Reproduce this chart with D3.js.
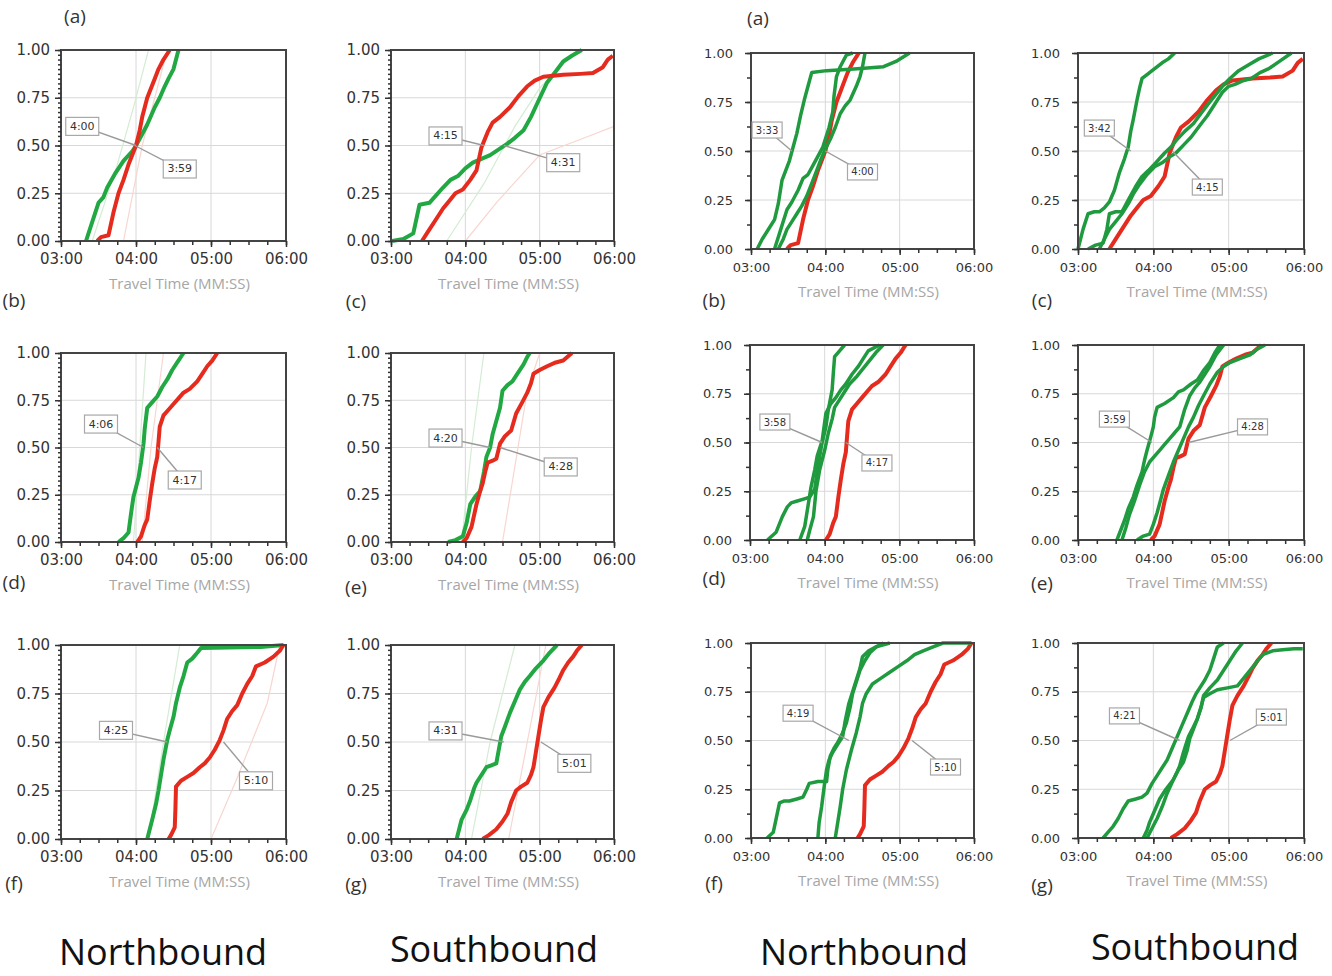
<!DOCTYPE html>
<html>
<head>
<meta charset="utf-8">
<script src="https://cdn.jsdelivr.net/npm/d3@7"></script>
<style>
  body { margin: 0; background: #fff; }
</style>
</head>
<body>
<svg id="chart" width="1332" height="976"></svg>
<script>
// ---- tick labels ----
const xTickValues = [180, 240, 300, 360];           // seconds
const xTickLabels = ["03:00", "04:00", "05:00", "06:00"];
const yTickValues = [0, 0.25, 0.5, 0.75, 1];
const xTitle = "Travel Time (MM:SS)";
const groupTitles = ["Northbound", "Southbound", "Northbound", "Southbound"];

// ---- reference (red) curves: [seconds, cumulative share] ----
const nbRed1 = [[209,0],[212,0.02],[218,0.03],[222,0.15],[226,0.25],[230,0.32],[234,0.4],[237,0.45],[240,0.5],[243,0.58],[245,0.65],[249,0.75],[252,0.8],[255,0.85],[258,0.9],[262,0.95],[267,1]];
const sbRed1 = [[205,0],[210,0.05],[216,0.11],[222,0.17],[227,0.21],[232,0.25],[238,0.27],[244,0.32],[249,0.37],[253,0.49],[258,0.57],[262,0.62],[268,0.65],[276,0.7],[283,0.76],[290,0.81],[296,0.84],[303,0.86],[319,0.87],[333,0.875],[343,0.88],[351,0.91],[355,0.95],[359,0.97]];
const nbRed2 = [[241,0],[244,0.03],[247,0.09],[249,0.12],[251,0.22],[253,0.31],[255,0.39],[257,0.45],[258,0.53],[259,0.61],[262,0.67],[266,0.7],[270,0.73],[274,0.76],[278,0.79],[283,0.81],[289,0.85],[293,0.89],[297,0.93],[301,0.96],[305,1]];
const sbRed2 = [[238,0],[241,0.02],[245,0.08],[249,0.2],[252,0.27],[254,0.31],[256,0.37],[258,0.42],[262,0.43],[265,0.44],[268,0.52],[272,0.56],[277,0.59],[281,0.68],[286,0.74],[290,0.79],[293,0.84],[295,0.89],[300,0.91],[306,0.93],[313,0.95],[319,0.96],[326,1]];
const nbRed3 = [[266,0],[268,0.02],[271,0.06],[271.5,0.15],[272,0.27],[276,0.3],[281,0.32],[286,0.34],[291,0.37],[295,0.39],[299,0.42],[303,0.46],[307,0.51],[310,0.56],[313,0.62],[317,0.66],[321,0.69],[325,0.75],[329,0.8],[333,0.84],[336,0.89],[343,0.91],[350,0.94],[355,0.97],[358,1]];
const sbRed3 = [[254,0],[259,0.02],[265,0.05],[270,0.09],[274,0.13],[277,0.19],[281,0.25],[285,0.27],[290,0.29],[293,0.33],[295,0.37],[297,0.45],[299,0.53],[301,0.61],[303,0.68],[307,0.73],[312,0.78],[316,0.83],[319,0.87],[323,0.91],[327,0.94],[330,0.97],[334,1]];

// ---- left set, green curves ----
const r1c1Green = [[200,0],[205,0.1],[210,0.2],[214,0.23],[217,0.28],[223,0.35],[230,0.42],[237,0.47],[240,0.5],[245,0.56],[249,0.61],[255,0.7],[259,0.75],[263,0.81],[266,0.85],[270,0.9],[272,0.95],[274,1]];
const r1c2Green = [[181,0],[190,0.01],[198,0.04],[203,0.19],[211,0.2],[222,0.28],[228,0.32],[234,0.34],[240,0.38],[246,0.41],[253,0.43],[260,0.45],[267,0.48],[274,0.51],[280,0.54],[287,0.58],[293,0.65],[298,0.72],[306,0.83],[312,0.88],[319,0.94],[326,0.97],[334,1]];
const r2c1Green = [[226,0],[230,0.02],[234,0.05],[236,0.15],[238,0.24],[240,0.29],[242,0.34],[244,0.42],[246,0.52],[247,0.6],[249,0.71],[253,0.74],[257,0.77],[261,0.82],[265,0.86],[269,0.91],[273,0.95],[278,1]];
const r2c2Green = [[226,0],[232,0.01],[238,0.03],[241,0.1],[244,0.2],[248,0.24],[252,0.27],[255,0.37],[257,0.45],[260,0.5],[262,0.57],[265,0.64],[268,0.71],[270,0.8],[274,0.83],[278,0.85],[283,0.9],[287,0.94],[290,0.98],[292,1]];
const r3c1Green = [[249,0],[251,0.05],[253,0.1],[256,0.18],[258,0.25],[260,0.33],[262,0.41],[265,0.51],[267,0.56],[270,0.63],[272,0.7],[275,0.78],[278,0.84],[281,0.91],[285,0.93],[289,0.96],[292,0.985],[340,0.99],[358,1]];
const r3c2Green = [[233,0],[235,0.05],[237,0.1],[241,0.15],[244,0.2],[247,0.26],[249,0.29],[253,0.33],[257,0.37],[261,0.38],[265,0.39],[267,0.46],[269,0.53],[272,0.58],[276,0.65],[280,0.71],[284,0.77],[288,0.81],[292,0.84],[297,0.88],[303,0.92],[308,0.96],[314,1]];

// ---- left set, faint background curves ----
const r1c1Faint = [[[205,0],[225,0.4],[238,0.7],[250,1]], [[230,0],[245,0.5],[265,1]]];
const r1c2Faint = [[[225,0],[255,0.3],[280,0.6],[300,0.8],[330,1]], [[240,0],[265,0.2],[300,0.45],[340,0.55],[360,0.6]]];
const r2c1Faint = [[[238,0],[243,0.5],[248,1]], [[245,0],[252,0.5],[262,1]]];
const r2c2Faint = [[[237,0],[245,0.5],[255,1]], [[270,0],[280,0.4],[290,0.8],[300,1]]];
const r3c1Faint = [[[250,0],[262,0.5],[275,1]], [[300,0],[320,0.3],[345,0.7],[355,1]]];
const r3c2Faint = [[[245,0],[260,0.5],[280,1]], [[275,0],[290,0.5],[305,1]]];

// ---- right set, green curves ----
const r1c3Green = [
  [[185,0],[189,0.05],[195,0.11],[199,0.15],[202,0.23],[205,0.35],[208,0.4],[211,0.45],[214,0.52],[217,0.59],[220,0.68],[223,0.76],[226,0.83],[229,0.9],[241,0.91],[266,0.92],[287,0.93],[298,0.96],[308,1]],
  [[199,0],[202,0.06],[205,0.12],[209,0.2],[213,0.24],[218,0.3],[222,0.36],[226,0.38],[232,0.45],[238,0.52],[243,0.62],[246,0.7],[247,0.78],[249,0.88],[252,0.93],[257,0.99],[262,1]],
  [[202,0],[206,0.05],[209,0.1],[213,0.14],[217,0.18],[221,0.22],[225,0.27],[230,0.35],[236,0.45],[240,0.51],[244,0.56],[248,0.62],[252,0.69],[256,0.73],[260,0.76],[265,0.83],[268,0.88],[270,0.93],[272,1]]
];
const r1c4Green = [
  [[180,0],[184,0.1],[188,0.18],[193,0.19],[197,0.19],[201,0.21],[205,0.24],[209,0.3],[213,0.39],[217,0.46],[220,0.52],[222,0.6],[224,0.66],[227,0.76],[229,0.82],[231,0.87],[235,0.89],[239,0.91],[247,0.95],[252,0.97],[257,1]],
  [[188,0],[194,0.02],[200,0.03],[203,0.1],[205,0.18],[210,0.19],[215,0.19],[220,0.25],[226,0.32],[231,0.37],[236,0.4],[242,0.44],[249,0.49],[254,0.52],[259,0.56],[265,0.6],[272,0.64],[279,0.7],[285,0.75],[290,0.79],[295,0.83],[301,0.87],[308,0.91],[316,0.94],[324,0.97],[335,1]],
  [[197,0],[201,0.05],[205,0.1],[210,0.14],[215,0.18],[220,0.23],[224,0.28],[229,0.33],[235,0.38],[241,0.42],[247,0.44],[253,0.47],[258,0.49],[264,0.53],[270,0.57],[277,0.63],[283,0.68],[289,0.74],[295,0.8],[300,0.83],[305,0.84],[312,0.86],[318,0.87],[325,0.9],[332,0.92],[341,0.96],[350,1]]
];
const r2c3Green = [
  [[194,0],[201,0.04],[206,0.12],[210,0.17],[213,0.19],[218,0.2],[223,0.21],[228,0.22],[232,0.26],[234,0.35],[236,0.43],[238,0.5],[241,0.58],[243,0.67],[246,0.77],[247,0.86],[248,0.94],[252,0.97],[256,1]],
  [[220,0],[224,0.07],[226,0.15],[229,0.27],[232,0.36],[234,0.43],[238,0.51],[241,0.65],[245,0.7],[249,0.73],[253,0.77],[257,0.8],[262,0.85],[267,0.89],[271,0.93],[275,0.97],[284,1]],
  [[226,0],[228,0.05],[231,0.12],[233,0.25],[236,0.36],[240,0.46],[243,0.55],[246,0.62],[248,0.68],[252,0.72],[255,0.75],[260,0.8],[266,0.84],[271,0.88],[276,0.92],[281,0.96],[287,1]]
];
const r2c4Green = [
  [[211,0],[214,0.05],[217,0.1],[220,0.16],[224,0.22],[227,0.28],[231,0.35],[233,0.41],[235,0.46],[238,0.53],[240,0.58],[241,0.63],[243,0.68],[249,0.7],[256,0.73],[260,0.76],[264,0.77],[270,0.8],[275,0.82],[280,0.87],[285,0.91],[289,0.96],[293,1]],
  [[215,0],[218,0.06],[221,0.13],[225,0.2],[229,0.28],[233,0.35],[237,0.4],[241,0.43],[245,0.46],[249,0.49],[253,0.52],[257,0.55],[261,0.58],[265,0.67],[269,0.74],[273,0.78],[277,0.81],[281,0.85],[285,0.89],[290,0.95],[296,1]],
  [[227,0],[232,0.02],[237,0.03],[240,0.08],[243,0.14],[246,0.21],[248,0.26],[252,0.33],[256,0.4],[260,0.46],[264,0.52],[268,0.58],[272,0.63],[276,0.69],[280,0.74],[285,0.8],[291,0.86],[296,0.89],[301,0.91],[309,0.93],[317,0.95],[323,0.98],[329,1]]
];
const r3c3Green = [
  [[193,0],[198,0.03],[201,0.12],[203,0.18],[207,0.19],[211,0.19],[217,0.2],[222,0.21],[225,0.25],[227,0.28],[234,0.29],[241,0.29],[242,0.35],[244,0.42],[247,0.46],[250,0.49],[254,0.54],[257,0.59],[260,0.67],[262,0.74],[265,0.8],[268,0.86],[272,0.91],[276,0.95],[281,0.98],[287,1]],
  [[234,0],[235,0.08],[237,0.16],[239,0.26],[241,0.35],[243,0.4],[246,0.44],[250,0.48],[254,0.52],[256,0.6],[259,0.69],[262,0.75],[265,0.81],[268,0.87],[270,0.93],[275,0.96],[281,0.98],[292,1]],
  [[248,0],[250,0.08],[252,0.16],[254,0.25],[257,0.35],[261,0.45],[265,0.54],[268,0.62],[270,0.69],[273,0.74],[278,0.79],[285,0.82],[292,0.85],[299,0.88],[306,0.91],[312,0.94],[319,0.96],[327,0.98],[335,1],[358,1]]
];
const r3c4Green = [
  [[200,0],[204,0.03],[208,0.06],[212,0.1],[216,0.15],[220,0.19],[226,0.2],[231,0.21],[235,0.23],[239,0.28],[243,0.32],[247,0.36],[251,0.4],[255,0.46],[259,0.52],[263,0.58],[267,0.64],[271,0.7],[274,0.74],[277,0.77],[281,0.81],[285,0.86],[288,0.92],[291,0.98],[296,1]],
  [[232,0],[235,0.04],[237,0.08],[241,0.14],[245,0.2],[250,0.25],[256,0.3],[259,0.34],[261,0.37],[264,0.44],[268,0.52],[272,0.57],[275,0.61],[278,0.67],[280,0.73],[285,0.77],[291,0.81],[296,0.86],[301,0.91],[306,0.96],[311,1]],
  [[235,0],[239,0.05],[243,0.1],[247,0.16],[251,0.23],[256,0.3],[260,0.35],[264,0.39],[267,0.45],[269,0.51],[272,0.56],[275,0.61],[278,0.67],[280,0.72],[285,0.74],[291,0.76],[299,0.77],[307,0.78],[312,0.82],[317,0.86],[322,0.9],[327,0.94],[335,0.96],[343,0.965],[352,0.97],[359,0.97]]
];

// ---- median call-out texts (green, red) ----
const r1c1Medians = ["4:00", "3:59"];
const r1c2Medians = ["4:15", "4:31"];
const r1c3Medians = ["3:33", "4:00"];
const r1c4Medians = ["3:42", "4:15"];
const r2c1Medians = ["4:06", "4:17"];
const r2c2Medians = ["4:20", "4:28"];
const r2c3Medians = ["3:58", "4:17"];
const r2c4Medians = ["3:59", "4:28"];
const r3c1Medians = ["4:25", "5:10"];
const r3c2Medians = ["4:31", "5:01"];
const r3c3Medians = ["4:19", "5:10"];
const r3c4Medians = ["4:21", "5:01"];

// ---- layout (pixel boxes of each plot, call-out box anchors in data units) ----
const panels = [
  { box: [61, 286, 50, 241],   set: "L", greens: [r1c1Green], red: nbRed1, faint: r1c1Faint, labels: r1c1Medians, at: [[197, 0.6], [275, 0.377]] },
  { box: [391, 614, 50, 241],  set: "L", greens: [r1c2Green], red: sbRed1, faint: r1c2Faint, labels: r1c2Medians, at: [[224, 0.55], [319, 0.41]] },
  { box: [751, 974, 53, 249],  set: "R", greens: r1c3Green, red: nbRed1, faint: [], labels: r1c3Medians, at: [[193, 0.607], [270, 0.393]] },
  { box: [1078, 1304, 53, 249],set: "R", greens: r1c4Green, red: sbRed1, faint: [], labels: r1c4Medians, at: [[197, 0.617], [283, 0.316]] },
  { box: [61, 286, 353, 542],  set: "L", greens: [r2c1Green], red: nbRed2, faint: r2c1Faint, labels: r2c1Medians, at: [[212, 0.624], [279, 0.328]] },
  { box: [391, 614, 353, 542], set: "L", greens: [r2c2Green], red: sbRed2, faint: r2c2Faint, labels: r2c2Medians, at: [[224, 0.55], [317, 0.397]] },
  { box: [750, 974, 345, 540], set: "R", greens: r2c3Green, red: nbRed2, faint: [], labels: r2c3Medians, at: [[200, 0.605], [282, 0.395]] },
  { box: [1078, 1304, 345, 540], set: "R", greens: r2c4Green, red: sbRed2, faint: [], labels: r2c4Medians, at: [[209, 0.62], [319, 0.58]] },
  { box: [61, 286, 645, 839],  set: "L", greens: [r3c1Green], red: nbRed3, faint: r3c1Faint, labels: r3c1Medians, at: [[224, 0.56], [336, 0.3]] },
  { box: [391, 614, 645, 839], set: "L", greens: [r3c2Green], red: sbRed3, faint: r3c2Faint, labels: r3c2Medians, at: [[224, 0.557], [328, 0.39]] },
  { box: [751, 974, 643, 838], set: "R", greens: r3c3Green, red: nbRed3, faint: [], labels: r3c3Medians, at: [[218, 0.64], [337, 0.364]] },
  { box: [1078, 1304, 643, 838], set: "R", greens: r3c4Green, red: sbRed3, faint: [], labels: r3c4Medians, at: [[217, 0.626], [334, 0.62]] }
];

const letters = [
  ["(a)", 75, 18], ["(b)", 14, 302], ["(c)", 356, 303], ["(d)", 14, 584], ["(e)", 356, 589], ["(f)", 14, 885], ["(g)", 356, 886],
  ["(a)", 758, 20], ["(b)", 714, 302], ["(c)", 1042, 302], ["(d)", 714, 580], ["(e)", 1042, 585], ["(f)", 714, 885], ["(g)", 1042, 887]
];
const titlePos = [[163, 955], [494, 952], [864, 955], [1195, 950]];

const svg = d3.select("#chart");
const toSec = s => { const p = s.split(":"); return +p[0] * 60 + +p[1]; };

panels.forEach(p => {
  const [x0, x1, y0, y1] = p.box;
  const isL = p.set === "L";
  const x = d3.scaleLinear().domain([180, 360]).range([x0, x1]);
  const y = d3.scaleLinear().domain([0, 1]).range([y1, y0]);
  const g = svg.append("g");
  const green = isL ? "#22a843" : "#1f9a3e";
  const red = "#e52b1e";

  // grid
  g.append("g").selectAll("line").data([240, 300]).join("line")
    .attr("x1", d => x(d)).attr("x2", d => x(d)).attr("y1", y0).attr("y2", y1)
    .attr("stroke", "#d8d8d8").attr("stroke-width", 1);
  g.append("g").selectAll("line").data([0.25, 0.5, 0.75]).join("line")
    .attr("y1", d => y(d)).attr("y2", d => y(d)).attr("x1", x0).attr("x2", x1)
    .attr("stroke", "#d8d8d8").attr("stroke-width", 1);

  const line = d3.line().x(d => x(d[0])).y(d => y(d[1]));

  // faint curves
  p.faint.forEach((f, i) => {
    g.append("path").attr("d", line(f)).attr("fill", "none")
      .attr("stroke", i % 2 ? "#f8d6d0" : "#d3ecd3").attr("stroke-width", 1.2);
  });

  // main curves
  const drawGreen = () => p.greens.forEach(c => {
    g.append("path").attr("d", line(c)).attr("fill", "none")
      .attr("stroke", green).attr("stroke-width", isL ? 4 : 3.5).attr("stroke-linejoin", "round");
  });
  if (isL) drawGreen();
  g.append("path").attr("d", line(p.red)).attr("fill", "none")
    .attr("stroke", red).attr("stroke-width", 4).attr("stroke-linejoin", "round");
  if (!isL) drawGreen();

  // frame
  g.append("rect").attr("x", x0).attr("y", y0).attr("width", x1 - x0).attr("height", y1 - y0)
    .attr("fill", "none").attr("stroke", "#444").attr("stroke-width", 2);

  // axes
  const tickFont = isL ? 15 : 13;
  const minorY = isL ? d3.range(0, 1.0001, 0.025) : d3.range(0, 1.0001, 0.125);
  const minorX = d3.range(180, 360.1, 15);

  const yMinor = g.append("g").attr("transform", `translate(${x0},0)`)
    .call(d3.axisLeft(y).tickValues(minorY).tickSize(isL ? 3 : 4).tickFormat(""));
  const xMinor = g.append("g").attr("transform", `translate(0,${y1})`)
    .call(d3.axisBottom(x).tickValues(minorX).tickSize(4).tickFormat(""));
  [yMinor, xMinor].forEach(a => { a.select(".domain").remove(); a.selectAll("line").attr("stroke", "#333").attr("stroke-width", 1.5); });

  const yAx = g.append("g").attr("transform", `translate(${x0},0)`)
    .call(d3.axisLeft(y).tickValues(yTickValues).tickSize(6).tickPadding(isL ? 5 : 12).tickFormat(d3.format(".2f")));
  const xAx = g.append("g").attr("transform", `translate(0,${y1})`)
    .call(d3.axisBottom(x).tickValues(xTickValues).tickSize(6).tickPadding(isL ? 6 : 8).tickFormat((d, i) => xTickLabels[i]));
  [yAx, xAx].forEach(a => {
    a.select(".domain").remove();
    a.selectAll("line").attr("stroke", "#333").attr("stroke-width", 1.5);
    a.selectAll("text").attr("font-family", "DejaVu Sans").attr("font-size", tickFont).attr("fill", "#333");
  });

  // axis title
  g.append("text").attr("x", (x0 + x1) / 2 + 6).attr("y", y1 + 44)
    .attr("text-anchor", "middle").attr("dominant-baseline", "middle")
    .attr("font-family", "Open Sans").attr("font-size", 15).attr("fill", "#a6a6a6")
    .text(xTitle);

  // median call-outs
  p.labels.forEach((lab, i) => {
    const tx = x(toSec(lab)), ty = y(0.5);
    const bx = x(p.at[i][0]), by = y(p.at[i][1]);
    const w = isL ? 33 : 30, h = isL ? 18 : 16;
    g.append("line").attr("x1", bx).attr("y1", by).attr("x2", tx).attr("y2", ty)
      .attr("stroke", "#9a9a9a").attr("stroke-width", 1.4);
    g.append("rect").attr("x", bx - w / 2).attr("y", by - h / 2).attr("width", w).attr("height", h)
      .attr("fill", "#fff").attr("stroke", "#a8a8a8").attr("stroke-width", 1.2);
    g.append("text").attr("x", bx).attr("y", by).attr("text-anchor", "middle").attr("dominant-baseline", "central")
      .attr("font-family", "DejaVu Sans").attr("font-size", isL ? 11 : 10).attr("fill", "#333").text(lab);
  });
});

// panel letters
svg.append("g").selectAll("text").data(letters).join("text")
  .attr("x", d => d[1]).attr("y", d => d[2])
  .attr("text-anchor", "middle").attr("dominant-baseline", "middle")
  .attr("font-family", "Open Sans").attr("font-size", 19).attr("fill", "#333")
  .text(d => d[0]);

// group titles
svg.append("g").selectAll("text").data(groupTitles).join("text")
  .attr("x", (d, i) => titlePos[i][0]).attr("y", (d, i) => titlePos[i][1])
  .attr("text-anchor", "middle").attr("dominant-baseline", "middle")
  .attr("font-family", "Open Sans").attr("font-size", 36).attr("fill", "#111")
  .text(d => d);
</script>
</body>
</html>
